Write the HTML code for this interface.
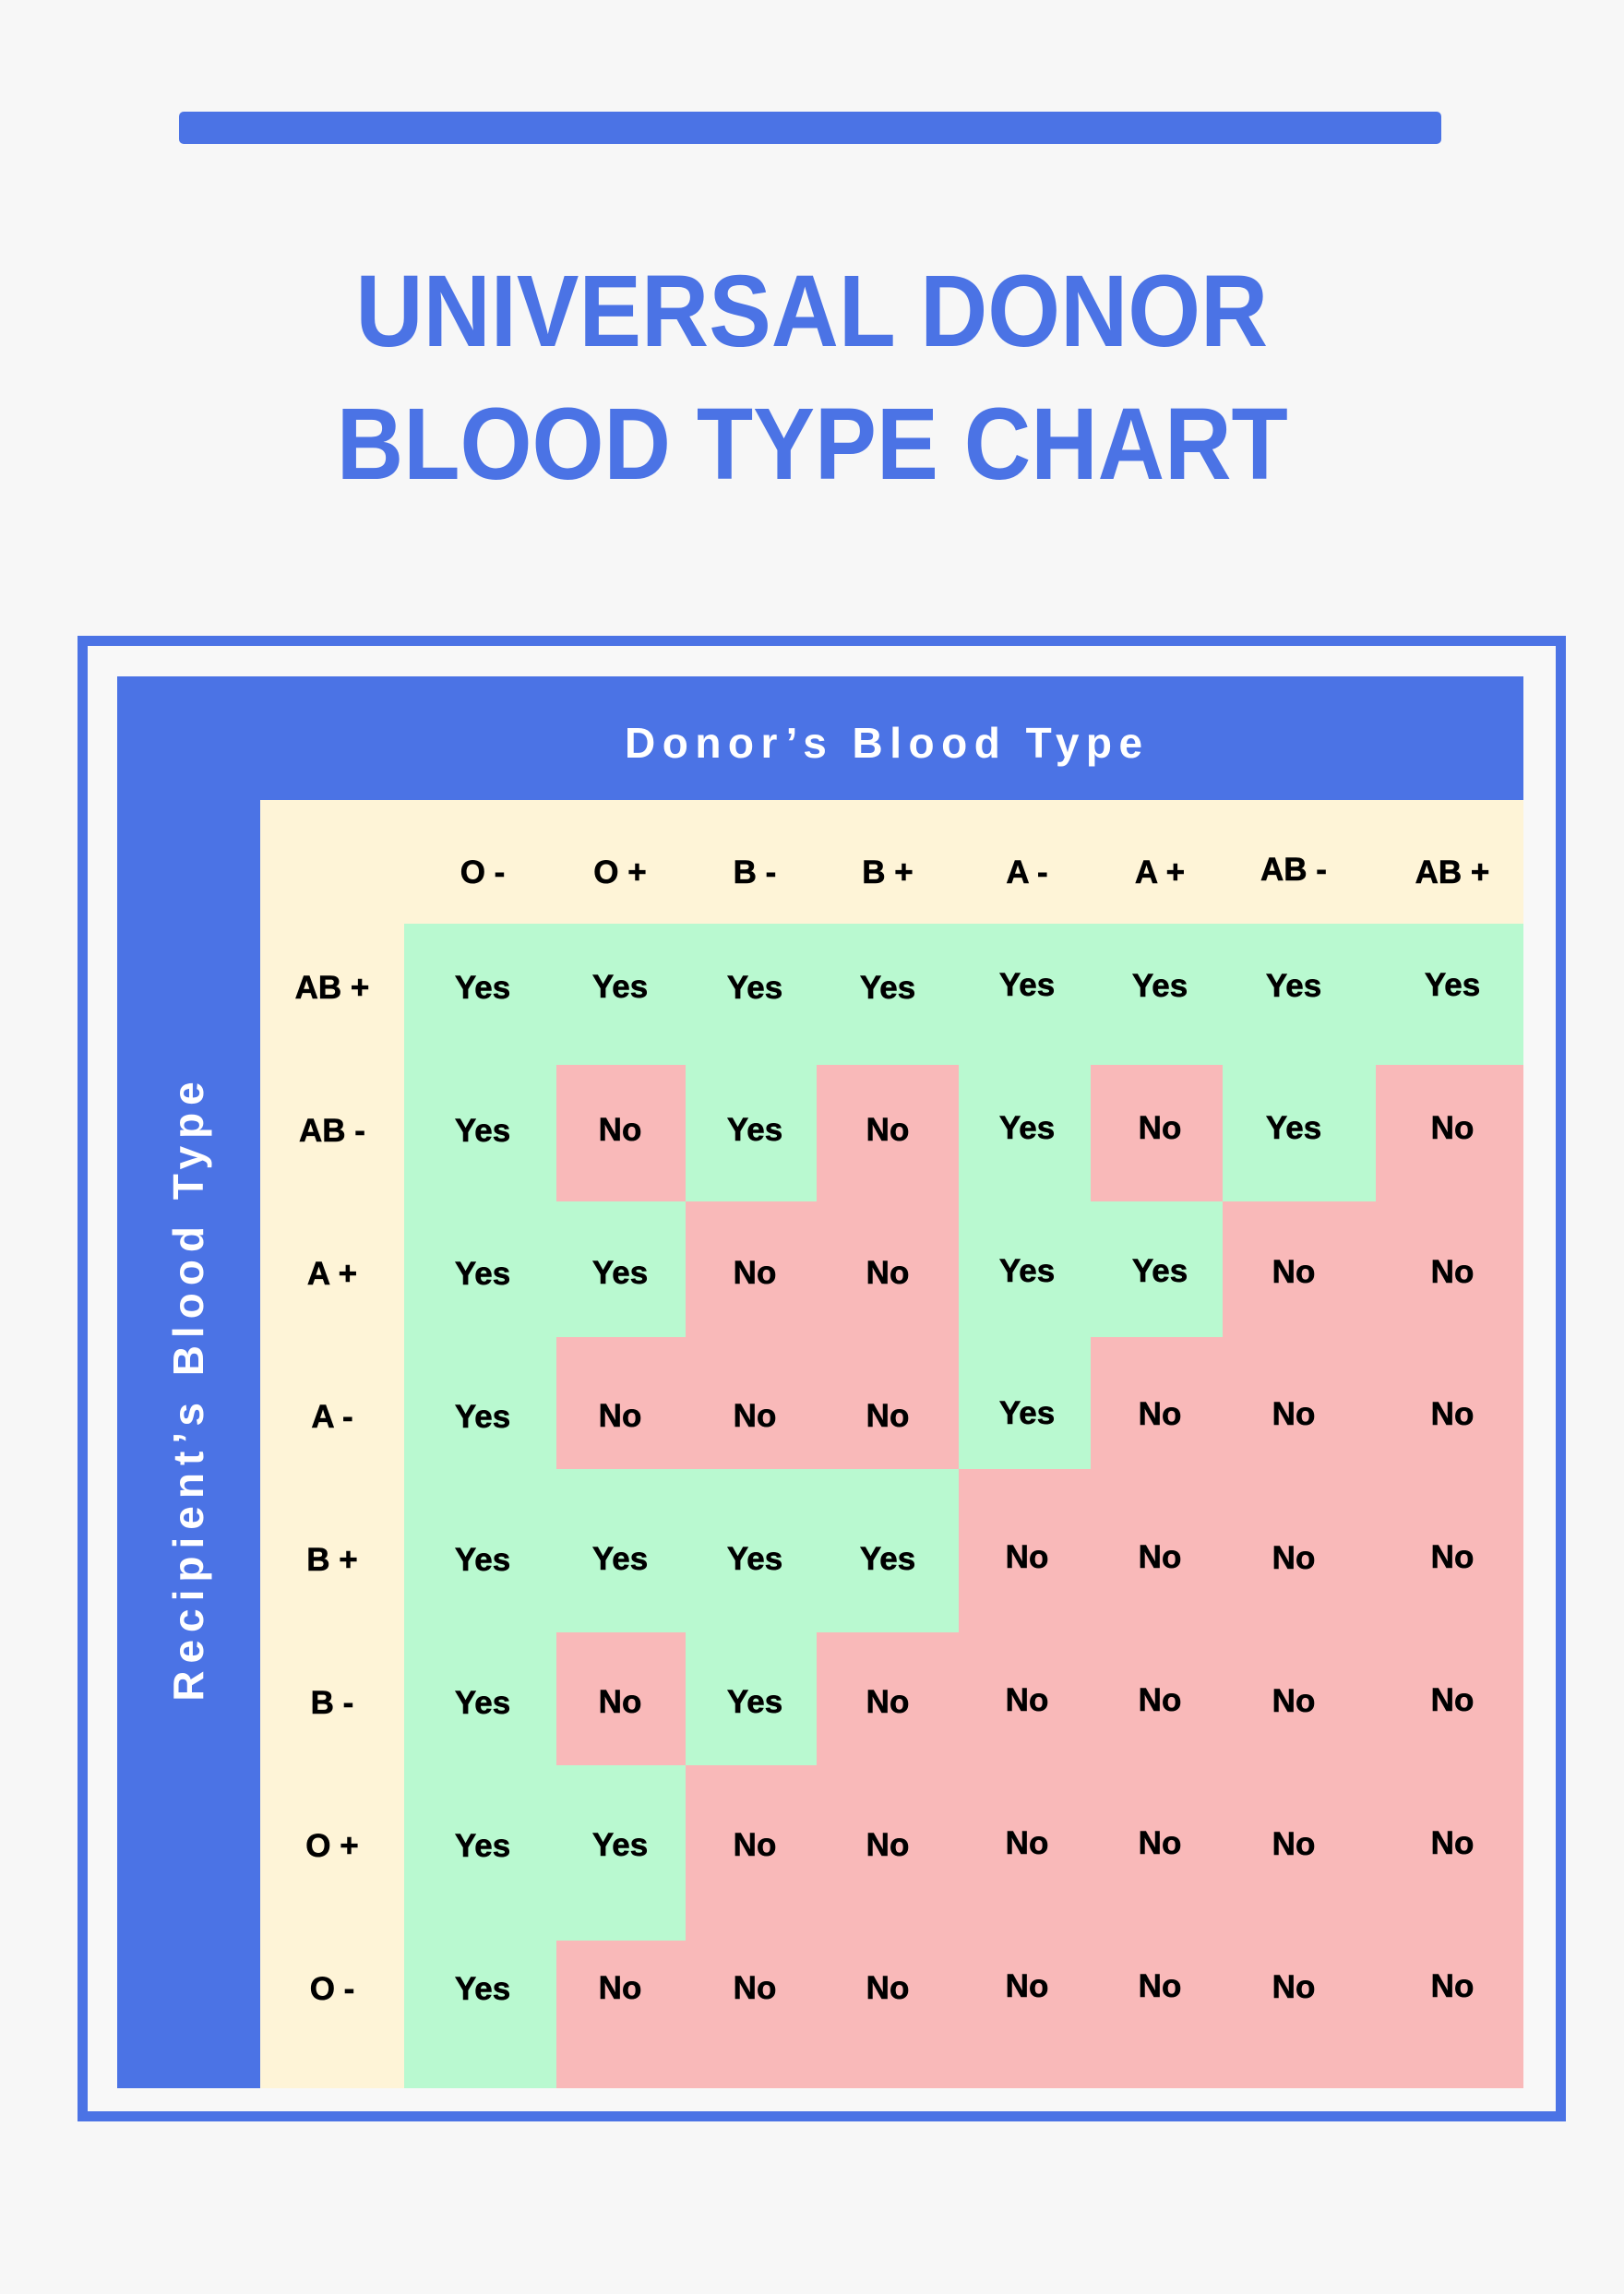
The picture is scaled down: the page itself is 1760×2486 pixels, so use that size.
<!DOCTYPE html>
<html>
<head>
<meta charset="utf-8">
<style>
  html, body { margin:0; padding:0; }
  body { width:1760px; height:2486px; background:#f7f7f7; position:relative; overflow:hidden;
         font-family:"Liberation Sans", Arial, sans-serif; }
  .abs { position:absolute; }
  .bar { left:194px; top:121px; width:1368px; height:35px; background:#4b73e5; border-radius:5px; }
  .title { left:0; width:1760px; text-align:center; color:#4b73e5; font-weight:bold;
           font-size:110px; line-height:110px; white-space:nowrap; }
  .box { left:84px; top:689px; width:1591px; height:1588px; border:11px solid #4b73e5; background:#f8f8f8; }
  .blue { background:#4b73e5; }
  .cream { background:#fef4d7; }
  .green { background:#b9f9d0; }
  .pink { background:#f9b9b9; }
  .lbl { position:absolute; width:160px; height:50px; line-height:50px; text-align:center;
         font-weight:bold; font-size:35px; color:#000; white-space:nowrap;
         -webkit-text-stroke:0.6px #000; }
  .head { color:#fff; font-weight:bold; font-size:46px; white-space:nowrap; }
</style>
</head>
<body>
  <div class="abs bar"></div>
  <div class="abs title" style="top:283px;"><span style="display:inline-block;transform:scaleX(0.921);">UNIVERSAL DONOR</span></div>
  <div class="abs title" style="top:427px;"><span style="display:inline-block;transform:scaleX(0.912);">BLOOD TYPE CHART</span></div>

  <div class="abs box"></div>
  <!-- blue header & side strip -->
  <div class="abs blue" style="left:127px;top:733px;width:1524px;height:134px;"></div>
  <div class="abs blue" style="left:127px;top:733px;width:155px;height:1530px;"></div>
  <!-- cream -->
  <div class="abs cream" style="left:282px;top:867px;width:1369px;height:134px;"></div>
  <div class="abs cream" style="left:282px;top:867px;width:156px;height:1396px;"></div>
  <!-- green base -->
  <div class="abs green" style="left:438px;top:1001px;width:1213px;height:1262px;"></div>

  <div class="abs head" style="left:677px;top:780px;line-height:50px;letter-spacing:7.5px;">Donor’s Blood Type</div>
  <div class="abs head" style="left:-146px;top:1483px;width:700px;height:50px;line-height:50px;text-align:center;letter-spacing:8px;padding-left:8px;box-sizing:border-box;transform:rotate(-90deg);transform-origin:50% 50%;">Recipient’s Blood Type</div>

  <!-- pink cells -->
  <!-- AB- row -->
  <div class="abs pink" style="left:603px;top:1154px;width:140px;height:148px;"></div>
  <div class="abs pink" style="left:885px;top:1154px;width:154px;height:148px;"></div>
  <div class="abs pink" style="left:1182px;top:1154px;width:143px;height:148px;"></div>
  <div class="abs pink" style="left:1491px;top:1154px;width:160px;height:148px;"></div>
  <!-- A+ row -->
  <div class="abs pink" style="left:743px;top:1302px;width:296px;height:147px;"></div>
  <div class="abs pink" style="left:1325px;top:1302px;width:326px;height:147px;"></div>
  <!-- A- row -->
  <div class="abs pink" style="left:603px;top:1449px;width:436px;height:143px;"></div>
  <div class="abs pink" style="left:1182px;top:1449px;width:469px;height:143px;"></div>
  <!-- B+ row -->
  <div class="abs pink" style="left:1039px;top:1592px;width:612px;height:177px;"></div>
  <!-- B- row -->
  <div class="abs pink" style="left:603px;top:1769px;width:140px;height:144px;"></div>
  <div class="abs pink" style="left:885px;top:1769px;width:766px;height:144px;"></div>
  <!-- O+ row -->
  <div class="abs pink" style="left:743px;top:1913px;width:908px;height:190px;"></div>
  <!-- O- row -->
  <div class="abs pink" style="left:603px;top:2103px;width:1048px;height:160px;"></div>

  <!-- column headers -->
  <div class="lbl" style="left:443px;top:921px;">O -</div>
  <div class="lbl" style="left:592px;top:921px;">O +</div>
  <div class="lbl" style="left:738px;top:921px;">B -</div>
  <div class="lbl" style="left:882px;top:921px;">B +</div>
  <div class="lbl" style="left:1033px;top:921px;">A -</div>
  <div class="lbl" style="left:1177px;top:921px;">A +</div>
  <div class="lbl" style="left:1322px;top:918px;">AB -</div>
  <div class="lbl" style="left:1494px;top:921px;">AB +</div>

  <!-- row labels -->
  <div class="lbl" style="left:280px;top:1046px;">AB +</div>
  <div class="lbl" style="left:280px;top:1201px;">AB -</div>
  <div class="lbl" style="left:280px;top:1356px;">A +</div>
  <div class="lbl" style="left:280px;top:1511px;">A -</div>
  <div class="lbl" style="left:280px;top:1666px;">B +</div>
  <div class="lbl" style="left:280px;top:1821px;">B -</div>
  <div class="lbl" style="left:280px;top:1976px;">O +</div>
  <div class="lbl" style="left:280px;top:2131px;">O -</div>

  <!-- cell values -->
  <!-- AB+ -->
  <div class="lbl" style="left:443px;top:1046px;">Yes</div>
  <div class="lbl" style="left:592px;top:1045px;">Yes</div>
  <div class="lbl" style="left:738px;top:1046px;">Yes</div>
  <div class="lbl" style="left:882px;top:1046px;">Yes</div>
  <div class="lbl" style="left:1033px;top:1043px;">Yes</div>
  <div class="lbl" style="left:1177px;top:1044px;">Yes</div>
  <div class="lbl" style="left:1322px;top:1044px;">Yes</div>
  <div class="lbl" style="left:1494px;top:1043px;">Yes</div>
  <!-- AB- -->
  <div class="lbl" style="left:443px;top:1201px;">Yes</div>
  <div class="lbl" style="left:592px;top:1200px;">No</div>
  <div class="lbl" style="left:738px;top:1200px;">Yes</div>
  <div class="lbl" style="left:882px;top:1200px;">No</div>
  <div class="lbl" style="left:1033px;top:1198px;">Yes</div>
  <div class="lbl" style="left:1177px;top:1198px;">No</div>
  <div class="lbl" style="left:1322px;top:1198px;">Yes</div>
  <div class="lbl" style="left:1494px;top:1198px;">No</div>
  <!-- A+ -->
  <div class="lbl" style="left:443px;top:1356px;">Yes</div>
  <div class="lbl" style="left:592px;top:1355px;">Yes</div>
  <div class="lbl" style="left:738px;top:1355px;">No</div>
  <div class="lbl" style="left:882px;top:1355px;">No</div>
  <div class="lbl" style="left:1033px;top:1353px;">Yes</div>
  <div class="lbl" style="left:1177px;top:1353px;">Yes</div>
  <div class="lbl" style="left:1322px;top:1354px;">No</div>
  <div class="lbl" style="left:1494px;top:1354px;">No</div>
  <!-- A- -->
  <div class="lbl" style="left:443px;top:1511px;">Yes</div>
  <div class="lbl" style="left:592px;top:1510px;">No</div>
  <div class="lbl" style="left:738px;top:1510px;">No</div>
  <div class="lbl" style="left:882px;top:1510px;">No</div>
  <div class="lbl" style="left:1033px;top:1507px;">Yes</div>
  <div class="lbl" style="left:1177px;top:1508px;">No</div>
  <div class="lbl" style="left:1322px;top:1508px;">No</div>
  <div class="lbl" style="left:1494px;top:1508px;">No</div>
  <!-- B+ -->
  <div class="lbl" style="left:443px;top:1666px;">Yes</div>
  <div class="lbl" style="left:592px;top:1665px;">Yes</div>
  <div class="lbl" style="left:738px;top:1665px;">Yes</div>
  <div class="lbl" style="left:882px;top:1665px;">Yes</div>
  <div class="lbl" style="left:1033px;top:1663px;">No</div>
  <div class="lbl" style="left:1177px;top:1663px;">No</div>
  <div class="lbl" style="left:1322px;top:1664px;">No</div>
  <div class="lbl" style="left:1494px;top:1663px;">No</div>
  <!-- B- -->
  <div class="lbl" style="left:443px;top:1821px;">Yes</div>
  <div class="lbl" style="left:592px;top:1820px;">No</div>
  <div class="lbl" style="left:738px;top:1820px;">Yes</div>
  <div class="lbl" style="left:882px;top:1820px;">No</div>
  <div class="lbl" style="left:1033px;top:1818px;">No</div>
  <div class="lbl" style="left:1177px;top:1818px;">No</div>
  <div class="lbl" style="left:1322px;top:1819px;">No</div>
  <div class="lbl" style="left:1494px;top:1818px;">No</div>
  <!-- O+ -->
  <div class="lbl" style="left:443px;top:1976px;">Yes</div>
  <div class="lbl" style="left:592px;top:1975px;">Yes</div>
  <div class="lbl" style="left:738px;top:1975px;">No</div>
  <div class="lbl" style="left:882px;top:1975px;">No</div>
  <div class="lbl" style="left:1033px;top:1973px;">No</div>
  <div class="lbl" style="left:1177px;top:1973px;">No</div>
  <div class="lbl" style="left:1322px;top:1974px;">No</div>
  <div class="lbl" style="left:1494px;top:1973px;">No</div>
  <!-- O- -->
  <div class="lbl" style="left:443px;top:2131px;">Yes</div>
  <div class="lbl" style="left:592px;top:2130px;">No</div>
  <div class="lbl" style="left:738px;top:2130px;">No</div>
  <div class="lbl" style="left:882px;top:2130px;">No</div>
  <div class="lbl" style="left:1033px;top:2128px;">No</div>
  <div class="lbl" style="left:1177px;top:2128px;">No</div>
  <div class="lbl" style="left:1322px;top:2129px;">No</div>
  <div class="lbl" style="left:1494px;top:2128px;">No</div>
</body>
</html>
